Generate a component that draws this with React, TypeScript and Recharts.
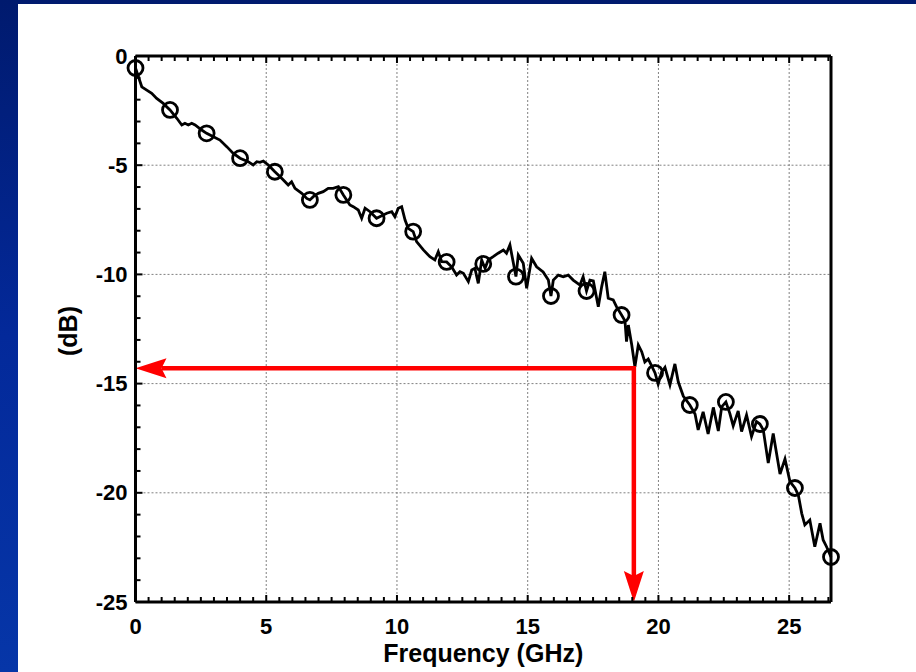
import React from "react";
import { ComposedChart, Line, Scatter, XAxis, YAxis, ReferenceLine, Label } from "recharts";

const W = 916;
const H = 672;
const FONT = '"Liberation Sans", Arial, Helvetica, sans-serif';

// ---- data ----
const freqGHz = [
  0, 0.24, 0.43, 0.62, 0.81, 1.06, 1.32, 1.58, 1.77, 1.89,
  2.02, 2.15, 2.28, 2.53, 2.72, 2.98, 3.23, 3.49, 3.74, 4.0,
  4.31, 4.5, 4.64, 4.76, 4.89, 5.08, 5.33, 5.59, 5.84, 5.97,
  6.1, 6.36, 6.55, 6.67, 6.8, 6.99, 7.18, 7.37, 7.56, 7.76,
  7.95, 8.2, 8.33, 8.52, 8.65, 8.78, 8.97, 9.22, 9.61, 9.8,
  9.92, 10.05, 10.18, 10.31, 10.43, 10.62, 10.75, 11.01, 11.26, 11.45,
  11.58, 11.71, 11.9, 12.09, 12.28, 12.41, 12.54, 12.73, 12.86, 12.98,
  13.11, 13.24, 13.3, 13.37, 13.49, 13.68, 13.87, 14.07, 14.19, 14.32,
  14.55, 14.64, 14.83, 14.96, 15.15, 15.34, 15.59, 15.79, 15.89, 15.98,
  16.17, 16.36, 16.55, 16.74, 17.0, 17.12, 17.25, 17.38, 17.51, 17.7,
  17.83, 17.95, 18.08, 18.27, 18.4, 18.59, 18.72, 18.78, 18.85, 18.98,
  19.1, 19.23, 19.36, 19.48, 19.61, 19.74, 19.87, 19.99, 20.12, 20.25,
  20.44, 20.63, 20.76, 20.95, 21.2, 21.4, 21.52, 21.71, 21.9, 22.1,
  22.29, 22.42, 22.58, 22.73, 22.86, 23.05, 23.18, 23.37, 23.56, 23.75,
  23.88, 24.01, 24.2, 24.39, 24.65, 24.84, 25.03, 25.22, 25.35, 25.48,
  25.6, 25.79, 25.98, 26.18, 26.3, 26.43, 26.6,
];

const responseDb = [
  -0.55, -1.41, -1.56, -1.71, -1.94, -2.17, -2.47, -2.85, -3.16, -3.08,
  -3.16, -3.08, -3.16, -3.39, -3.54, -3.7, -3.85, -4.15, -4.46, -4.68,
  -4.84, -4.99, -4.84, -4.87, -4.81, -4.99, -5.3, -5.6, -5.91, -5.76,
  -6.06, -6.29, -6.52, -6.59, -6.44, -6.29, -6.21, -6.06, -6.06, -5.98,
  -6.36, -6.82, -6.9, -7.05, -7.43, -6.97, -7.13, -7.43, -7.2, -7.13,
  -7.36, -6.97, -6.9, -7.51, -7.89, -8.04, -8.5, -8.88, -9.19, -9.34,
  -8.96, -9.42, -9.43, -9.65, -10.03, -9.88, -9.95, -10.33, -9.8, -9.72,
  -10.41, -9.34, -9.52, -9.72, -9.34, -9.19, -9.03, -8.88, -9.03, -8.65,
  -10.1, -9.11, -9.49, -10.64, -9.26, -9.65, -9.89, -10.26, -10.99, -10.26,
  -10.03, -10.11, -10.03, -10.26, -10.49, -10.11, -10.76, -10.26, -10.3, -11.48,
  -10.56, -9.88, -11.09, -11.17, -11.49, -11.86, -12.13, -13.08, -12.32, -13.23,
  -14.23, -13.23, -13.54, -14.01, -13.87, -14.19, -14.51, -15.02, -14.47, -14.26,
  -15.06, -14.1, -14.93, -15.57, -15.98, -16.39, -17.12, -16.29, -17.31, -16.09,
  -17.17, -16.06, -15.84, -16.36, -16.94, -16.25, -17.2, -16.44, -17.43, -16.74,
  -16.85, -17.12, -18.64, -17.28, -19.14, -18.45, -19.49, -19.78, -20.1, -20.94,
  -21.47, -21.25, -22.47, -21.4, -22.16, -22.47, -22.94,
];

const markerFreqGHz = [
  0, 1.32, 2.72, 4.0, 5.33, 6.67, 7.95, 9.22, 10.62, 11.9, 13.3,
  14.55, 15.89, 17.25, 18.59, 19.87, 21.2, 22.58, 23.88, 25.22, 26.6,
];
const markerDb = [
  -0.55, -2.47, -3.54, -4.68, -5.3, -6.59, -6.36, -7.43, -8.04, -9.43, -9.52,
  -10.1, -10.99, -10.76, -11.86, -14.51, -15.98, -15.84, -16.85, -19.78, -22.94,
];

// cut-off marker (red arrows)
const arrowFreqGHz = 19.06;
const arrowDb = -14.3;

// axes
const xDomain: [number, number] = [0, 26.6];
const yDomain: [number, number] = [-25, 0];
const xMajorTicks = [0, 5, 10, 15, 20, 25];
const yMajorTicks = [0, -5, -10, -15, -20, -25];
const xGridValues = [5, 10, 15, 20, 25];
const yGridValues = [-5, -10, -15, -20];
const xAllTicks = [
  0, 0.5, 1, 1.5, 2, 2.5, 3, 3.5, 4, 4.5, 5, 5.5, 6, 6.5, 7, 7.5, 8, 8.5, 9, 9.5,
  10, 10.5, 11, 11.5, 12, 12.5, 13, 13.5, 14, 14.5, 15, 15.5, 16, 16.5, 17, 17.5,
  18, 18.5, 19, 19.5, 20, 20.5, 21, 21.5, 22, 22.5, 23, 23.5, 24, 24.5, 25, 25.5, 26, 26.5,
];
const yAllTicks = [
  0, -1, -2, -3, -4, -5, -6, -7, -8, -9, -10, -11, -12, -13, -14, -15, -16, -17,
  -18, -19, -20, -21, -22, -23, -24, -25,
];
const xTitle = "Frequency (GHz)";
const yTitle = "(dB)";

const lineData = freqGHz.map((f, i) => ({ f, db: responseDb[i] }));
const markerData = markerFreqGHz.map((f, i) => ({ f, db: markerDb[i] }));

const tickText = {
  fontFamily: FONT,
  fontWeight: 700 as const,
  fontSize: 22,
  fill: "#000",
};

const BottomTick = (props: any) => {
  const { x, y, payload } = props;
  const v = payload.value;
  const major = xMajorTicks.includes(v);
  return (
    <g>
      <line x1={x} y1={y} x2={x} y2={y - (major ? 7 : 5)} stroke="#000" strokeWidth={2} />
      {major && (
        <text x={x} y={y + 32} textAnchor="middle" {...tickText}>
          {v}
        </text>
      )}
    </g>
  );
};

const TopTick = (props: any) => {
  const { x, y, payload } = props;
  const major = xMajorTicks.includes(payload.value);
  return <line x1={x} y1={y} x2={x} y2={y + (major ? 7 : 5)} stroke="#000" strokeWidth={2} />;
};

const LeftTick = (props: any) => {
  const { x, y, payload } = props;
  const v = payload.value;
  const major = yMajorTicks.includes(v);
  return (
    <g>
      <line x1={x} y1={y} x2={x + (major ? 7 : 5)} y2={y} stroke="#000" strokeWidth={2} />
      {major && (
        <text x={x - 8} y={y} textAnchor="end" dominantBaseline="central" {...tickText}>
          {v}
        </text>
      )}
    </g>
  );
};

const RightTick = (props: any) => {
  const { x, y, payload } = props;
  const major = yMajorTicks.includes(payload.value);
  return <line x1={x} y1={y} x2={x - (major ? 7 : 5)} y2={y} stroke="#000" strokeWidth={2} />;
};

const Arrow = (p: any) => {
  const { x1, y1, x2, y2 } = p;
  const dx = x2 - x1;
  const dy = y2 - y1;
  const len = Math.hypot(dx, dy) || 1;
  const ux = dx / len;
  const uy = dy / len;
  const L = 31;
  const hw = 10;
  const bx = x2 - ux * L;
  const by = y2 - uy * L;
  const px = -uy;
  const py = ux;
  const nx = bx + ux * 5;
  const ny = by + uy * 5;
  return (
    <g>
      <line
        x1={x1 - ux * 2}
        y1={y1 - uy * 2}
        x2={nx}
        y2={ny}
        stroke="#ff0000"
        strokeWidth={4.5}
      />
      <polygon
        points={`${x2},${y2} ${bx + px * hw},${by + py * hw} ${nx},${ny} ${bx - px * hw},${by - py * hw}`}
        fill="#ff0000"
      />
    </g>
  );
};

const Marker = (p: any) => (
  <circle cx={p.cx} cy={p.cy} r={7.5} fill="none" stroke="#000" strokeWidth={2.8} />
);

const titleStyle = {
  fontFamily: FONT,
  fontWeight: 700 as const,
  fontSize: 25,
  fill: "#000",
};

export default function App() {
  return (
    <div
      style={{
        position: "absolute",
        left: 0,
        top: 0,
        width: W,
        height: H,
        background: "linear-gradient(to bottom, #001a6e 0%, #03299a 50%, #0636a8 100%)",
        overflow: "hidden",
      }}
    >
      <div
        style={{
          position: "absolute",
          left: 18,
          top: 4,
          width: W - 18,
          height: H - 4,
          background: "#ffffff",
        }}
      />
      <div style={{ position: "absolute", left: 0, top: 0 }}>
        <ComposedChart
          width={W}
          height={H}
          data={lineData}
          margin={{ top: 46, right: 75, bottom: 0, left: 0 }}
        >
          <XAxis
            dataKey="f"
            type="number"
            domain={xDomain}
            ticks={xAllTicks}
            interval={0}
            height={70}
            tickSize={0}
            tickMargin={0}
            tickLine={false}
            axisLine={{ stroke: "#000", strokeWidth: 3 }}
            tick={BottomTick}
          >
            <Label
              content={(lp: any) => {
                const vb = lp.viewBox;
                return (
                  <text
                    x={vb.x + vb.width / 2}
                    y={vb.y + 51}
                    textAnchor="middle"
                    dominantBaseline="central"
                    {...titleStyle}
                  >
                    {xTitle}
                  </text>
                );
              }}
            />
          </XAxis>
          <XAxis
            xAxisId="top"
            orientation="top"
            dataKey="f"
            type="number"
            domain={xDomain}
            ticks={xAllTicks}
            interval={0}
            height={10}
            tickSize={0}
            tickMargin={0}
            tickLine={false}
            axisLine={{ stroke: "#000", strokeWidth: 3 }}
            tick={TopTick}
          />
          <YAxis
            dataKey="db"
            type="number"
            domain={yDomain}
            ticks={yAllTicks}
            interval={0}
            width={135.5}
            tickSize={0}
            tickMargin={0}
            tickLine={false}
            axisLine={{ stroke: "#000", strokeWidth: 3 }}
            tick={LeftTick}
          >
            <Label
              content={(lp: any) => {
                const vb = lp.viewBox;
                const cx = vb.x + 68;
                const cy = vb.y + vb.height / 2 + 2;
                return (
                  <text
                    x={cx}
                    y={cy}
                    textAnchor="middle"
                    dominantBaseline="central"
                    transform={`rotate(-90 ${cx} ${cy})`}
                    {...titleStyle}
                  >
                    {yTitle}
                  </text>
                );
              }}
            />
          </YAxis>
          <YAxis
            yAxisId="right"
            orientation="right"
            type="number"
            domain={yDomain}
            ticks={yAllTicks}
            interval={0}
            width={10}
            tickSize={0}
            tickMargin={0}
            tickLine={false}
            axisLine={{ stroke: "#000", strokeWidth: 3 }}
            tick={RightTick}
          />

          {xGridValues.map((v) => (
            <ReferenceLine key={"gx" + v} x={v} stroke="#808080" strokeWidth={1} strokeDasharray="2 2" />
          ))}
          {yGridValues.map((v) => (
            <ReferenceLine key={"gy" + v} y={v} stroke="#808080" strokeWidth={1} strokeDasharray="2 2" />
          ))}

          <Line
            dataKey="db"
            type="linear"
            stroke="#000"
            strokeWidth={2.8}
            dot={false}
            activeDot={false}
            isAnimationActive={false}
          />
          <Scatter data={markerData} dataKey="db" shape={Marker} isAnimationActive={false} />

          <ReferenceLine
            segment={[
              { x: arrowFreqGHz, y: arrowDb },
              { x: 0, y: arrowDb },
            ]}
            ifOverflow="visible"
            shape={Arrow}
          />
          <ReferenceLine
            segment={[
              { x: arrowFreqGHz, y: arrowDb },
              { x: arrowFreqGHz, y: -25 },
            ]}
            ifOverflow="visible"
            shape={Arrow}
          />
        </ComposedChart>
      </div>
    </div>
  );
}
